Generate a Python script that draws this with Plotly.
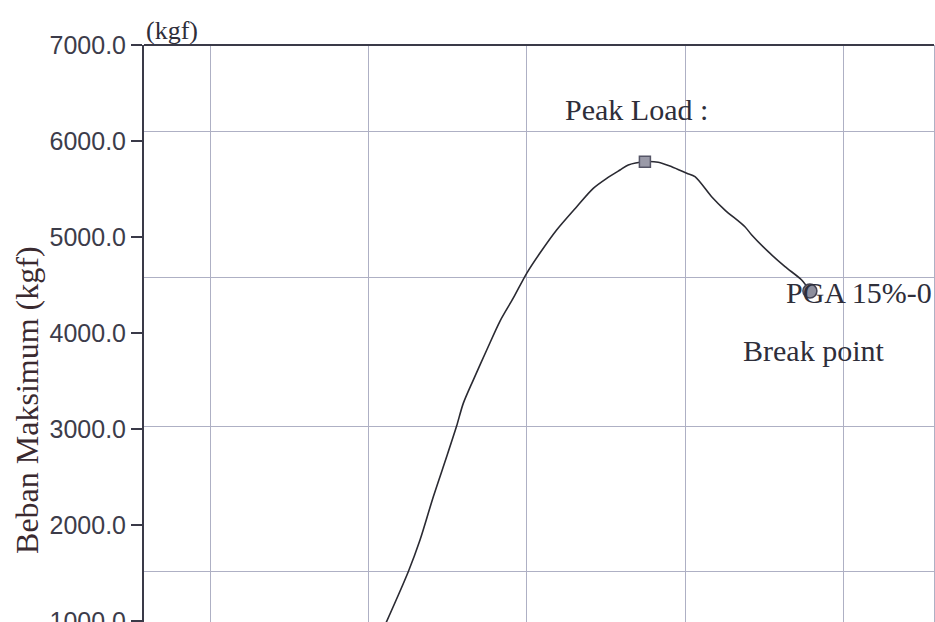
import plotly.graph_objects as go

# ---- data ----
stroke = [2.110, 2.251, 2.325, 2.409, 2.493, 2.556, 2.598, 2.661, 2.746, 2.830,
          2.914, 2.998, 3.082, 3.187, 3.314, 3.418, 3.503, 3.587, 3.639, 3.744,
          3.828, 3.913, 4.008, 4.060, 4.165, 4.249, 4.375, 4.418, 4.522, 4.628,
          4.733, 4.785]
load = [979, 1514, 1844, 2295, 2711, 3031, 3267, 3510, 3823, 4125,
        4365, 4622, 4833, 5073, 5316, 5507, 5611, 5698, 5750, 5784,
        5778, 5732, 5664, 5628, 5420, 5281, 5107, 5021, 4847, 4691,
        4552, 4437]

peak_x, peak_y = [3.744], [5784]
break_x, break_y = [4.785], [4437]

y_tick_vals = [1000, 2000, 3000, 4000, 5000, 6000, 7000]
y_tick_text = ["1000.0", "2000.0", "3000.0", "4000.0", "5000.0", "6000.0", "7000.0"]
grid_y = [1514, 3031, 4580, 6097]
grid_x = [1, 2, 3, 4, 5]
x_range = [0.5836, 5.568]
y_range = [990, 7000]

axis_col = "#3a3a48"
grid_col = "#aeb0c4"
text_col = "#2e2e3a"
serif = "Liberation Serif, Times New Roman, serif"

fig = go.Figure()
fig.add_trace(go.Scatter(x=stroke, y=load, mode="lines",
                         line=dict(color="#2a2a32", width=1.6, shape="spline",
                                   smoothing=0.8),
                         showlegend=False, hoverinfo="skip"))
fig.add_trace(go.Scatter(x=peak_x, y=peak_y, mode="markers",
                         marker=dict(symbol="square", size=11, color="#9a9aa8",
                                     line=dict(color="#555566", width=1.5)),
                         showlegend=False))
fig.add_trace(go.Scatter(x=break_x, y=break_y, mode="markers",
                         marker=dict(symbol="circle", size=14, color="#8e8e9c",
                                     line=dict(color="#444455", width=1.5)),
                         showlegend=False))
# helper trace for the secondary (grid) y axis
fig.add_trace(go.Scatter(x=[None], y=[None], yaxis="y2", showlegend=False,
                         hoverinfo="skip"))

fig.update_layout(
    width=935, height=622,
    margin=dict(l=144, r=1, t=45, b=0),
    paper_bgcolor="white", plot_bgcolor="white",
    xaxis=dict(range=x_range, tickvals=grid_x, showticklabels=False, ticks="",
               showgrid=True, gridcolor=grid_col, gridwidth=1,
               zeroline=False, showline=False, automargin=False),
    yaxis=dict(range=y_range, tickvals=y_tick_vals, ticktext=y_tick_text,
               ticks="outside", ticklen=11, tickwidth=1.5, tickcolor=axis_col,
               ticklabeloverflow="allow", automargin=False,
               showgrid=False, zeroline=False, showline=True,
               linecolor=axis_col, linewidth=2,
               tickfont=dict(family="Liberation Sans, Arial", size=25, color="#3c3c4a")),
    yaxis2=dict(range=y_range, overlaying="y", side="right", tickvals=grid_y,
                showticklabels=False, ticks="", showgrid=True, gridcolor=grid_col,
                gridwidth=1, zeroline=False, showline=True, linecolor=grid_col,
                linewidth=1, automargin=False),
    shapes=[dict(type="line", xref="paper", yref="paper", x0=0, x1=1, y0=1, y1=1,
                 line=dict(color=axis_col, width=2))],
    annotations=[
        dict(text="Beban Maksimum (kgf)", xref="paper", yref="paper",
             x=-0.148, y=0.385, textangle=-90, showarrow=False,
             xanchor="center", yanchor="middle",
             font=dict(family=serif, size=32, color="#3a2a30")),
        dict(text="(kgf)", xref="paper", yref="paper", x=0, y=1,
             xanchor="left", yanchor="bottom", showarrow=False, yshift=-2,
             font=dict(family=serif, size=26, color=text_col)),
        dict(text="Peak Load :", x=3.694, y=6333, showarrow=False,
             xanchor="center", yanchor="middle",
             font=dict(family=serif, size=30, color=text_col)),
        dict(text="PGA 15%-0", x=4.620, y=4417, showarrow=False,
             xanchor="left", yanchor="middle",
             font=dict(family=serif, size=30, color=text_col)),
        dict(text="Break point", x=4.350, y=3823, showarrow=False,
             xanchor="left", yanchor="middle",
             font=dict(family=serif, size=30, color=text_col)),
    ],
)

fig.write_html("out.html")
